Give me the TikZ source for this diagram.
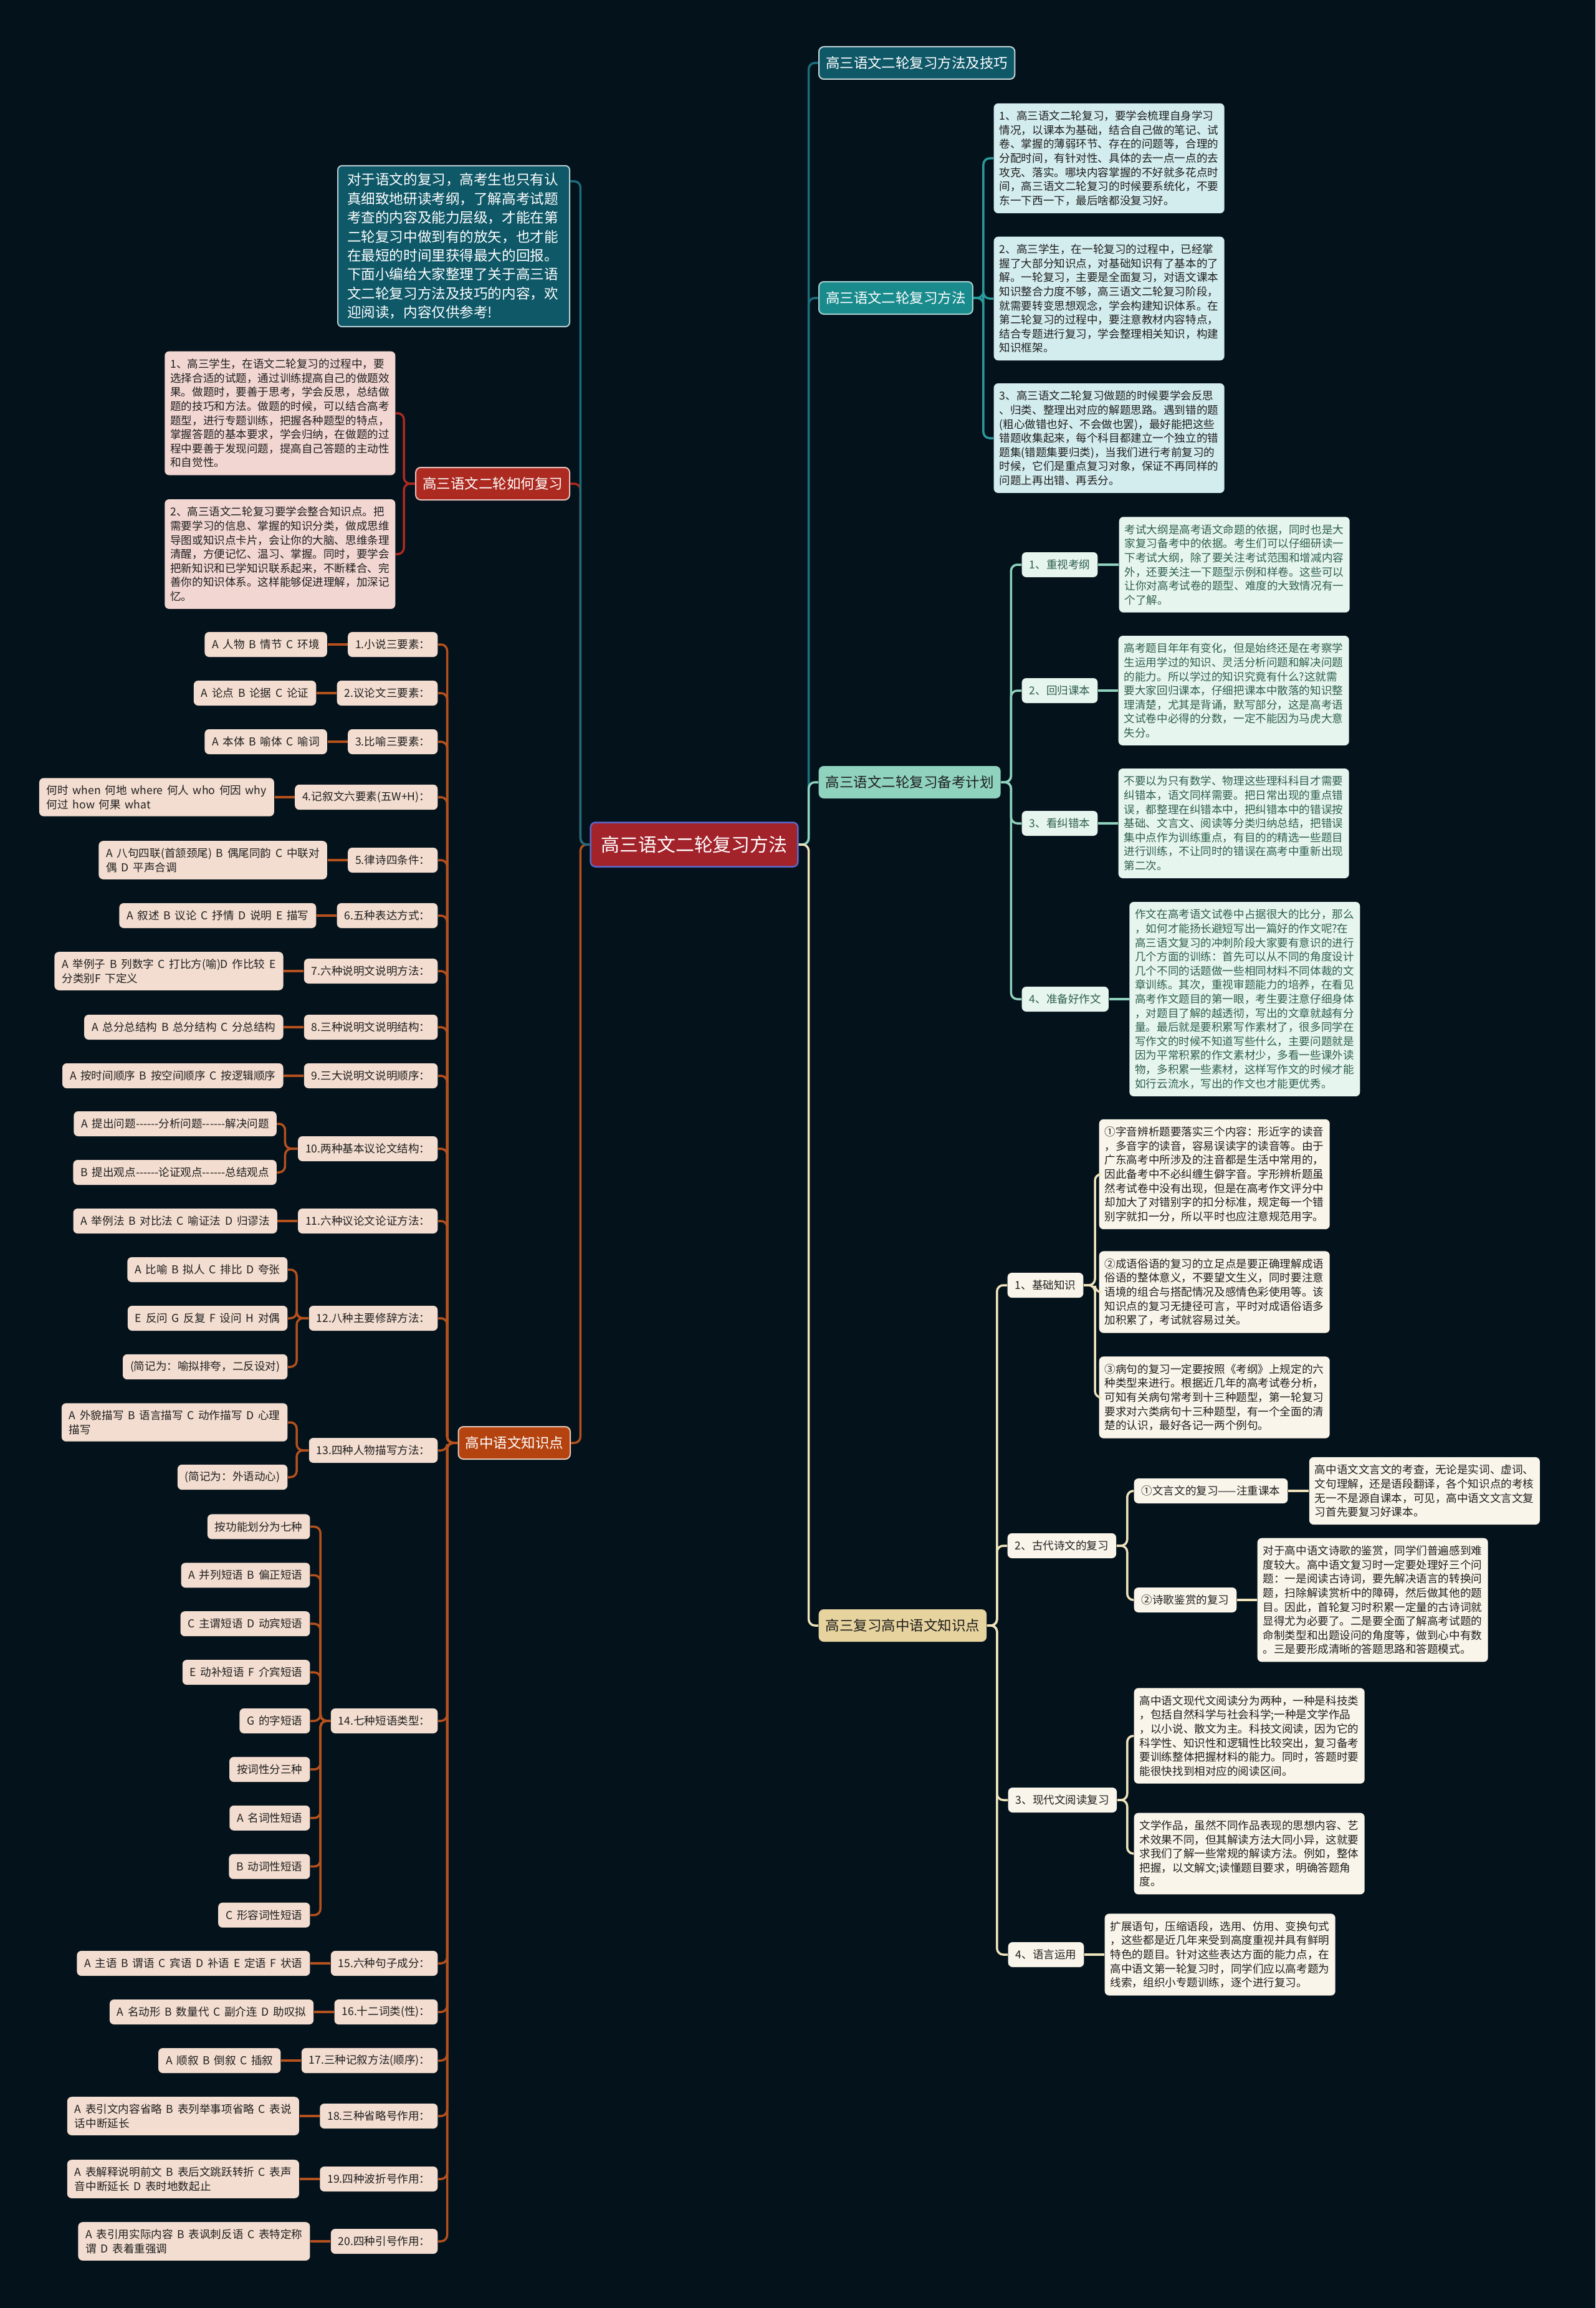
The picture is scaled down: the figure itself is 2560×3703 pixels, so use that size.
\documentclass[tikz,border=0pt]{standalone}
\usepackage{fontspec}
\setmainfont{Noto Sans CJK SC}[WordSpace=1.7]
\usetikzlibrary{positioning,calc}

\definecolor{bgc}{HTML}{04121B}
\definecolor{rootc}{HTML}{A3232B}
\definecolor{rootb}{HTML}{5B68C9}
\definecolor{tealD}{HTML}{0E5868}
\definecolor{tealM}{HTML}{1A8B8D}
\definecolor{tealL}{HTML}{D3ECEE}
\definecolor{tealW}{HTML}{1D6C7C}
\definecolor{tealW2}{HTML}{2A9A9C}
\definecolor{mintM}{HTML}{8FD3BE}
\definecolor{mintL}{HTML}{E7F5EF}
\definecolor{mintT}{HTML}{2E5F4F}
\definecolor{sandM}{HTML}{E7D39E}
\definecolor{sandL}{HTML}{FAF5EA}
\definecolor{sandW}{HTML}{EFE3BC}
\definecolor{redM}{HTML}{AC2A20}
\definecolor{redL}{HTML}{F2D6D2}
\definecolor{orgM}{HTML}{B4430F}
\definecolor{orgL}{HTML}{F3DDD0}
\definecolor{orgW}{HTML}{B5511D}
\definecolor{ink}{HTML}{1F1F1F}

\begin{document}
\begin{tikzpicture}[x=0.1mm, y=-0.1mm,
  link/.style={line width=0.35mm, rounded corners=1mm},
  root/.style={fill=rootc, draw=rootb, line width=0.25mm, text=white, rounded corners=0.8mm,
    font=\fontsize{8.5}{10}\selectfont, minimum height=7.1mm, inner xsep=1.7mm, inner ysep=0pt},
  topic/.style={rounded corners=0.8mm, font=\fontsize{6.4}{8}\selectfont,
    minimum height=5.2mm, inner xsep=1.1mm, inner ysep=0pt},
  note/.style={rounded corners=0.7mm, font=\fontsize{5}{6.43}\selectfont,
    text width=35.2mm, align=left, inner xsep=0.9mm, inner ysep=1.2mm},
  tag/.style={rounded corners=0.7mm, font=\fontsize{5}{6.6}\selectfont,
    minimum height=4mm, inner xsep=1.2mm, inner ysep=1.1mm, align=left},
  ]
  \fill[bgc] (0,0) rectangle (2560,3703);
  \useasboundingbox (0,0) rectangle (2560,3703);

  \node[root] (root) at (1114,1355) {高三语文二轮复习方法};

  % right side
  \node[topic, fill=tealD, draw=white!75!tealD, line width=0.2mm, text=white, anchor=west] (r1) at (1313,101) {高三语文二轮复习方法及技巧};
  \node[topic, fill=tealM, draw=white!60!tealM, line width=0.2mm, text=white, anchor=west] (r2) at (1313,478) {高三语文二轮复习方法};
  \node[topic, fill=mintM, text=ink, anchor=west] (r3) at (1313,1255) {高三语文二轮复习备考计划};
  \node[topic, fill=sandM, text=ink, anchor=west] (r4) at (1313,2608) {高三复习高中语文知识点};

  \node[note, fill=tealL, text=ink, anchor=west] (r2a) at (1594,254) {1、高三语文二轮复习，要学会梳理自身学习\\情况，以课本为基础，结合自己做的笔记、试\\卷、掌握的薄弱环节、存在的问题等，合理的\\分配时间，有针对性、具体的去一点一点的去\\攻克、落实。哪块内容掌握的不好就多花点时\\间，高三语文二轮复习的时候要系统化，不要\\东一下西一下，最后啥都没复习好。};
  \node[note, fill=tealL, text=ink, anchor=west] (r2b) at (1594,479) {2、高三学生，在一轮复习的过程中，已经掌\\握了大部分知识点，对基础知识有了基本的了\\解。一轮复习，主要是全面复习，对语文课本\\知识整合力度不够，高三语文二轮复习阶段，\\就需要转变思想观念，学会构建知识体系。在\\第二轮复习的过程中，要注意教材内容特点，\\结合专题进行复习，学会整理相关知识，构建\\知识框架。};
  \node[note, fill=tealL, text=ink, anchor=west] (r2c) at (1594,703) {3、高三语文二轮复习做题的时候要学会反思\\、归类、整理出对应的解题思路。遇到错的题\\(粗心做错也好、不会做也罢)，最好能把这些\\错题收集起来，每个科目都建立一个独立的错\\题集(错题集要归类)，当我们进行考前复习的\\时候，它们是重点复习对象，保证不再同样的\\问题上再出错、再丢分。};

  \node[tag, fill=mintL, text=mintT, anchor=west] (r31) at (1639,906) {1、重视考纲};
  \node[note, fill=mintL, text=mintT, right=3.3mm of r31] (r31n) {考试大纲是高考语文命题的依据，同时也是大\\家复习备考中的依据。考生们可以仔细研读一\\下考试大纲，除了要关注考试范围和增减内容\\外，还要关注一下题型示例和样卷。这些可以\\让你对高考试卷的题型、难度的大致情况有一\\个了解。};
  \node[tag, fill=mintL, text=mintT, anchor=west] (r32) at (1639,1108) {2、回归课本};
  \node[note, fill=mintL, text=mintT, right=3.2mm of r32] (r32n) {高考题目年年有变化，但是始终还是在考察学\\生运用学过的知识、灵活分析问题和解决问题\\的能力。所以学过的知识究竟有什么?这就需\\要大家回归课本，仔细把课本中散落的知识整\\理清楚，尤其是背诵，默写部分，这是高考语\\文试卷中必得的分数，一定不能因为马虎大意\\失分。};
  \node[tag, fill=mintL, text=mintT, anchor=west] (r33) at (1639,1321) {3、看纠错本};
  \node[note, fill=mintL, text=mintT, right=3.2mm of r33] (r33n) {不要以为只有数学、物理这些理科科目才需要\\纠错本，语文同样需要。把日常出现的重点错\\误，都整理在纠错本中，把纠错本中的错误按\\基础、文言文、阅读等分类归纳总结，把错误\\集中点作为训练重点，有目的的精选一些题目\\进行训练，不让同时的错误在高考中重新出现\\第二次。};
  \node[tag, fill=mintL, text=mintT, anchor=west] (r34) at (1639,1603) {4、准备好作文};
  \node[note, fill=mintL, text=mintT, right=3.2mm of r34] (r34n) {作文在高考语文试卷中占据很大的比分，那么\\，如何才能扬长避短写出一篇好的作文呢?在\\高三语文复习的冲刺阶段大家要有意识的进行\\几个方面的训练：首先可以从不同的角度设计\\几个不同的话题做一些相同材料不同体裁的文\\章训练。其次，重视审题能力的培养，在看见\\高考作文题目的第一眼，考生要注意仔细身体\\，对题目了解的越透彻，写出的文章就越有分\\量。最后就是要积累写作素材了，很多同学在\\写作文的时候不知道写些什么，主要问题就是\\因为平常积累的作文素材少，多看一些课外读\\物，多积累一些素材，这样写作文的时候才能\\如行云流水，写出的作文也才能更优秀。};

  \node[tag, fill=sandL, text=ink, anchor=west] (r41) at (1616,2062) {1、基础知识};
  \node[note, fill=sandL, text=ink, anchor=west] (r41a) at (1763,1884) {①字音辨析题要落实三个内容：形近字的读音\\，多音字的读音，容易误读字的读音等。由于\\广东高考中所涉及的注音都是生活中常用的，\\因此备考中不必纠缠生僻字音。字形辨析题虽\\然考试卷中没有出现，但是在高考作文评分中\\却加大了对错别字的扣分标准，规定每一个错\\别字就扣一分，所以平时也应注意规范用字。};
  \node[note, fill=sandL, text=ink, anchor=west] (r41b) at (1763,2073) {②成语俗语的复习的立足点是要正确理解成语\\俗语的整体意义，不要望文生义，同时要注意\\语境的组合与搭配情况及感情色彩使用等。该\\知识点的复习无捷径可言，平时对成语俗语多\\加积累了，考试就容易过关。};
  \node[note, fill=sandL, text=ink, anchor=west] (r41c) at (1763,2242) {③病句的复习一定要按照《考纲》上规定的六\\种类型来进行。根据近几年的高考试卷分析，\\可知有关病句常考到十三种题型，第一轮复习\\要求对六类病句十三种题型，有一个全面的清\\楚的认识，最好各记一两个例句。};
  \node[tag, fill=sandL, text=ink, anchor=west] (r42) at (1616,2480) {2、古代诗文的复习};
  \node[tag, fill=sandL, text=ink, anchor=west] (r42a) at (1819,2392) {①文言文的复习——注重课本};
  \node[note, fill=sandL, text=ink, right=3.3mm of r42a] (r42an) {高中语文文言文的考查，无论是实词、虚词、\\文句理解，还是语段翻译，各个知识点的考核\\无一不是源自课本，可见，高中语文文言文复\\习首先要复习好课本。};
  \node[tag, fill=sandL, text=ink, anchor=west] (r42b) at (1819,2567) {②诗歌鉴赏的复习};
  \node[note, fill=sandL, text=ink, right=3.2mm of r42b] (r42bn) {对于高中语文诗歌的鉴赏，同学们普遍感到难\\度较大。高中语文复习时一定要处理好三个问\\题：一是阅读古诗词，要先解决语言的转换问\\题，扫除解读赏析中的障碍，然后做其他的题\\目。因此，首轮复习时积累一定量的古诗词就\\显得尤为必要了。二是要全面了解高考试题的\\命制类型和出题设问的角度等，做到心中有数\\。三是要形成清晰的答题思路和答题模式。};
  \node[tag, fill=sandL, text=ink, anchor=west] (r43) at (1617,2888) {3、现代文阅读复习};
  \node[note, fill=sandL, text=ink, anchor=west] (r43a) at (1819,2785) {高中语文现代文阅读分为两种，一种是科技类\\，包括自然科学与社会科学;一种是文学作品\\，以小说、散文为主。科技文阅读，因为它的\\科学性、知识性和逻辑性比较突出，复习备考\\要训练整体把握材料的能力。同时，答题时要\\能很快找到相对应的阅读区间。};
  \node[note, fill=sandL, text=ink, anchor=west] (r43b) at (1819,2974) {文学作品，虽然不同作品表现的思想内容、艺\\术效果不同，但其解读方法大同小异，这就要\\求我们了解一些常规的解读方法。例如，整体\\把握，以文解文;读懂题目要求，明确答题角\\度。};
  \node[tag, fill=sandL, text=ink, anchor=west] (r44) at (1617,3136) {4、语言运用};
  \node[note, fill=sandL, text=ink, right=3.2mm of r44] (r44n) {扩展语句，压缩语段，选用、仿用、变换句式\\，这些都是近几年来受到高度重视并具有鲜明\\特色的题目。针对这些表达方面的能力点，在\\高中语文第一轮复习时，同学们应以高考题为\\线索，组织小专题训练，逐个进行复习。};

  % left side
  \node[note, fill=tealD, draw=white!70!tealD, line width=0.2mm, text=white, font=\fontsize{6.43}{8.65}\selectfont,
    text width=34.2mm, inner xsep=1.5mm, anchor=east] (l1) at (915,395) {对于语文的复习，高考生也只有认\\真细致地研读考纲，了解高考试题\\考查的内容及能力层级，才能在第\\二轮复习中做到有的放矢，也才能\\在最短的时间里获得最大的回报。\\下面小编给大家整理了关于高三语\\文二轮复习方法及技巧的内容，欢\\迎阅读，内容仅供参考!};
  \node[topic, fill=redM, draw=white!70!redM, line width=0.2mm, text=white, anchor=east] (l2) at (915,776) {高三语文二轮如何复习};
  \node[note, fill=redL, text=ink, anchor=east] (l2a) at (635,663) {1、高三学生，在语文二轮复习的过程中，要\\选择合适的试题，通过训练提高自己的做题效\\果。做题时，要善于思考，学会反思，总结做\\题的技巧和方法。做题的时候，可以结合高考\\题型，进行专题训练，把握各种题型的特点，\\掌握答题的基本要求，学会归纳，在做题的过\\程中要善于发现问题，提高自己答题的主动性\\和自觉性。};
  \node[note, fill=redL, text=ink, anchor=east] (l2b) at (635,889) {2、高三语文二轮复习要学会整合知识点。把\\需要学习的信息、掌握的知识分类，做成思维\\导图或知识点卡片，会让你的大脑、思维条理\\清醒，方便记忆、温习、掌握。同时，要学会\\把新知识和已学知识联系起来，不断糅合、完\\善你的知识体系。这样能够促进理解，加深记\\忆。};
  \node[topic, fill=orgM, draw=white!70!orgM, line width=0.2mm, text=white, anchor=east] (l3) at (916,2315) {高中语文知识点};

  \foreach \n/\y/\a/\b in {
    1/1034/{1.小说三要素：}/{A 人物 B 情节 C 环境},
    2/1112/{2.议论文三要素：}/{A 论点 B 论据 C 论证},
    3/1190/{3.比喻三要素：}/{A 本体 B 喻体 C 喻词},
    4/1279/{4.记叙文六要素(五W+H)：}/{何时 when 何地 where 何人 who 何因 why\\何过 how 何果 what},
    5/1380/{5.律诗四条件：}/{A 八句四联(首颔颈尾) B 偶尾同韵 C 中联对\\偶 D 平声合调},
    6/1469/{6.五种表达方式：}/{A 叙述 B 议论 C 抒情 D 说明 E 描写},
    7/1558/{7.六种说明文说明方法：}/{A 举例子 B 列数字 C 打比方(喻)D 作比较 E\\分类别F 下定义},
    8/1648/{8.三种说明文说明结构：}/{A 总分总结构 B 总分结构 C 分总结构},
    9/1726/{9.三大说明文说明顺序：}/{A 按时间顺序 B 按空间顺序 C 按逻辑顺序},
    11/1959/{11.六种议论文论证方法：}/{A 举例法 B 对比法 C 喻证法 D 归谬法},
    15/3150/{15.六种句子成分：}/{A 主语 B 谓语 C 宾语 D 补语 E 定语 F 状语},
    16/3228/{16.十二词类(性)：}/{A 名动形 B 数量代 C 副介连 D 助叹拟},
    17/3306/{17.三种记叙方法(顺序)：}/{A 顺叙 B 倒叙 C 插叙},
    18/3395/{18.三种省略号作用：}/{A 表引文内容省略 B 表列举事项省略 C 表说\\话中断延长},
    19/3496/{19.四种波折号作用：}/{A 表解释说明前文 B 表后文跳跃转折 C 表声\\音中断延长 D 表时地数起止},
    20/3596/{20.四种引号作用：}/{A 表引用实际内容 B 表讽刺反语 C 表特定称\\谓 D 表着重强调}}{
    \node[tag, fill=orgL, text=ink, anchor=east] (k\n) at (703,\y) {\a};
    \node[tag, fill=orgL, text=ink, left=3.2mm of k\n] (v\n) {\b};
    \draw[link, orgW] (k\n.west) -- (v\n.east);
  }

  \node[tag, fill=orgL, text=ink, anchor=east] (k10) at (703,1843) {10.两种基本议论文结构：};
  \node[tag, fill=orgL, text=ink, anchor=east] (v10a) at ($(k10.west)+(-33,-40)$) {A 提出问题-{}-{}-{}-{}-{}-分析问题-{}-{}-{}-{}-{}-解决问题};
  \node[tag, fill=orgL, text=ink, anchor=east] (v10b) at ($(k10.west)+(-33,38)$) {B 提出观点-{}-{}-{}-{}-{}-论证观点-{}-{}-{}-{}-{}-总结观点};
  \foreach \k in {v10a,v10b} \draw[link, orgW] (k10.west) -- ++(-20,0) |- (\k.east);

  \node[tag, fill=orgL, text=ink, anchor=east] (k12) at (703,2115) {12.八种主要修辞方法：};
  \node[tag, fill=orgL, text=ink, anchor=east] (v12a) at ($(k12.west)+(-33,-78)$) {A 比喻 B 拟人 C 排比 D 夸张};
  \node[tag, fill=orgL, text=ink, anchor=east] (v12b) at ($(k12.west)+(-33,0)$) {E 反问 G 反复 F 设问 H 对偶};
  \node[tag, fill=orgL, text=ink, anchor=east] (v12c) at ($(k12.west)+(-33,78)$) {(简记为：喻拟排夸，二反设对)};
  \foreach \k in {v12a,v12b,v12c} \draw[link, orgW] (k12.west) -- ++(-19,0) |- (\k.east);

  \node[tag, fill=orgL, text=ink, anchor=east] (k13) at (703,2327) {13.四种人物描写方法：};
  \node[tag, fill=orgL, text=ink, anchor=east] (v13a) at ($(k13.west)+(-33,-45)$) {A 外貌描写 B 语言描写 C 动作描写 D 心理\\描写};
  \node[tag, fill=orgL, text=ink, anchor=east] (v13b) at ($(k13.west)+(-33,43)$) {(简记为：外语动心)};
  \foreach \k in {v13a,v13b} \draw[link, orgW] (k13.west) -- ++(-19,0) |- (\k.east);

  \node[tag, fill=orgL, text=ink, anchor=east] (k14) at (703,2761) {14.七种短语类型：};
  \foreach \t [count=\i] in {按功能划分为七种, A 并列短语 B 偏正短语, C 主谓短语 D 动宾短语,
      E 动补短语 F 介宾短语, G 的字短语, 按词性分三种, A 名词性短语, B 动词性短语, C 形容词性短语}{
    \node[tag, fill=orgL, text=ink, anchor=east] (v14\i) at ($(k14.west)+(-32,{(\i-5)*77.9})$) {\t};
    \draw[link, orgW] (k14.west) -- ++(-16,0) |- (v14\i.east);
  }

  % connectors
  \draw[link, tealW] (root.east) -- ++(16,0) |- (r1.west);
  \draw[link, tealW] (root.east) -- ++(16,0) |- (r2.west);
  \draw[link, mintM] (root.east) -- ++(16,0) |- (r3.west);
  \draw[link, sandW] (root.east) -- ++(16,0) |- (r4.west);
  \draw[link, redM] (root.west) -- ++(-15,0) |- (l2.east);
  \draw[link, orgW] (root.west) -- ++(-15,0) |- (l3.east);
  \draw[link, tealW] (root.west) -- ++(-15,0) |- ([yshift=-2.6mm]l1.north east);

  \foreach \k in {r2a,r2b,r2c} \draw[link, tealW2] (r2.east) -- ++(16,0) |- (\k.west);
  \foreach \k in {r31,r32,r33,r34} {
    \draw[link, mintM] (r3.east) -- ++(16,0) |- (\k.west);
    \draw[link, mintM] (\k.east) -- (\k n.west);
  }
  \foreach \k in {r41,r42,r43,r44} \draw[link, sandW] (r4.east) -- ++(16,0) |- (\k.west);
  \foreach \k in {r41a,r41b,r41c} \draw[link, sandW] (r41.east) -- ++(18,0) |- (\k.west);
  \foreach \k in {r42a,r42b} {
    \draw[link, sandW] (r42.east) -- ++(17,0) |- (\k.west);
    \draw[link, sandW] (\k.east) -- (\k n.west);
  }
  \foreach \k in {r43a,r43b} \draw[link, sandW] (r43.east) -- ++(16,0) |- (\k.west);
  \draw[link, sandW] (r44.east) -- (r44n.west);

  \foreach \k in {l2a,l2b} \draw[link, redM] (l2.west) -- ++(-18,0) |- (\k.east);
  \foreach \n in {1,...,20} \draw[link, orgW] (l3.west) -- ++(-17,0) |- (k\n.east);
\end{tikzpicture}
\end{document}
